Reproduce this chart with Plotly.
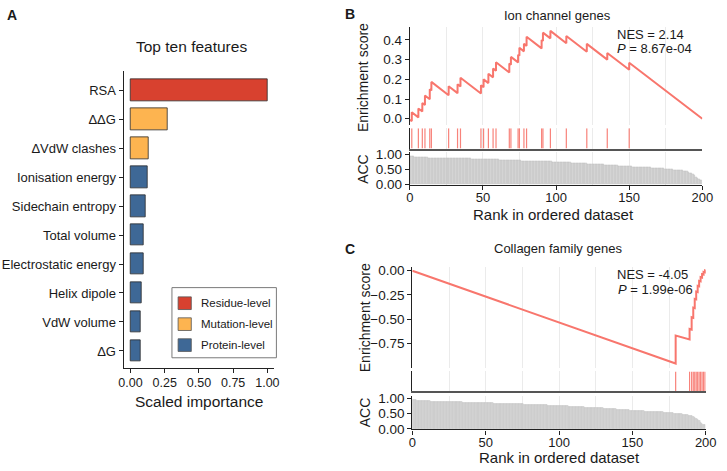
import numpy as np
import plotly.graph_objects as go

W, H = 727, 471
FONT = "Liberation Sans, Arial, Helvetica, sans-serif"
TXT = "#1a1a1a"
AX = "#222222"
GRID = "#EBEBEB"
CURVE = "#F8766D"

# ---------------- Panel A data ----------------
features = ["RSA", "ΔΔG", "ΔVdW clashes", "Ionisation energy", "Sidechain entropy",
            "Total volume", "Electrostatic energy", "Helix dipole", "VdW volume", "ΔG"]
importance = [1.0, 0.274, 0.131, 0.126, 0.114, 0.095, 0.097, 0.083, 0.071, 0.071]
feature_level = ["Residue-level", "Mutation-level", "Mutation-level", "Protein-level",
                 "Protein-level", "Protein-level", "Protein-level", "Protein-level",
                 "Protein-level", "Protein-level"]
level_names = ["Residue-level", "Mutation-level", "Protein-level"]
level_colors = ["#D8412F", "#FDB450", "#3E6896"]
a_ticks = [0.0, 0.25, 0.5, 0.75, 1.0]

# ---------------- Panel B data (Ion channel genes) ----------------
ion_start_es = -0.005
ion_hits = [1.3, 5.8, 8.5, 10.3, 13.6, 14.7, 26.5, 32.6, 34.6, 48.6, 50.4, 53.7, 56.9, 58.9,
            68, 69.1, 74, 74.9, 78, 79.8, 90.1, 91, 96.1, 107, 121, 135, 150]
ion_es_before = [-0.012, 0.007, 0.037, 0.070, 0.099, 0.144, 0.119, 0.130, 0.164, 0.128, 0.160,
                 0.181, 0.210, 0.244, 0.235, 0.274, 0.286, 0.320, 0.342, 0.370, 0.357, 0.395,
                 0.408, 0.383, 0.340, 0.300, 0.249]
ion_es_after = [0.033, 0.052, 0.080, 0.118, 0.150, 0.187, 0.165, 0.175, 0.208, 0.170, 0.200,
                0.228, 0.255, 0.287, 0.280, 0.314, 0.325, 0.360, 0.380, 0.416, 0.400, 0.437,
                0.446, 0.420, 0.380, 0.334, 0.284]
ion_end_es = 0.0
ion_es_ticks = [0, 0.1, 0.2, 0.3, 0.4]
ion_es_ticktext = ["0.0", "0.1", "0.2", "0.3", "0.4"]
ion_nes = "NES = 2.14"
ion_p = "8.67e-04"

# ---------------- Panel C data (Collagen family genes) ----------------
col_start_es = 0.0
col_hits = [179.5, 189, 190.4, 191.5, 192.5, 193.5, 194.5, 195.5, 196.5, 197.5, 198.5, 199.5]
col_es_before = [-0.957, -0.709, -0.607, -0.486, -0.385, -0.295, -0.220, -0.160, -0.110,
                 -0.070, -0.040, -0.017]
col_es_after = [-0.669, -0.600, -0.480, -0.380, -0.290, -0.215, -0.155, -0.105, -0.065,
                -0.035, -0.012, 0.003]
col_end_es = 0.0
col_es_ticks = [0, -0.25, -0.5, -0.75]
col_es_ticktext = ["0.00", "\u22120.25", "\u22120.50", "\u22120.75"]
col_nes = "NES = -4.05"
col_p = "1.99e-06"

n_ranks = 200
rank_ticks = [0, 50, 100, 150, 200]
rank_minor = [25, 75, 125, 175]
acc_ticks = [0, 0.5, 1.0]
acc_ticktext = ["0.00", "0.50", "1.00"]

# ACC of the ordered dataset (ranks 1..200)
acc_values = [
    0.95, 0.94, 0.93, 0.92, 0.92, 0.91, 0.91, 0.91, 0.90, 0.90,
    0.90, 0.90, 0.89, 0.89, 0.89, 0.89, 0.89, 0.89, 0.88, 0.88,
    0.88, 0.88, 0.88, 0.88, 0.88, 0.88, 0.87, 0.87, 0.87, 0.87,
    0.87, 0.87, 0.87, 0.87, 0.86, 0.86, 0.86, 0.86, 0.86, 0.86,
    0.86, 0.86, 0.85, 0.85, 0.85, 0.85, 0.85, 0.85, 0.85, 0.84,
    0.84, 0.84, 0.84, 0.84, 0.84, 0.83, 0.83, 0.83, 0.83, 0.83,
    0.83, 0.82, 0.82, 0.82, 0.82, 0.82, 0.81, 0.81, 0.81, 0.81,
    0.81, 0.80, 0.80, 0.80, 0.80, 0.80, 0.79, 0.79, 0.79, 0.79,
    0.79, 0.78, 0.78, 0.78, 0.78, 0.78, 0.77, 0.77, 0.77, 0.77,
    0.77, 0.77, 0.76, 0.76, 0.76, 0.76, 0.76, 0.75, 0.75, 0.75,
    0.75, 0.75, 0.74, 0.74, 0.74, 0.74, 0.73, 0.73, 0.73, 0.73,
    0.72, 0.72, 0.72, 0.72, 0.71, 0.71, 0.71, 0.70, 0.70, 0.70,
    0.70, 0.69, 0.69, 0.69, 0.68, 0.68, 0.68, 0.67, 0.67, 0.67,
    0.66, 0.66, 0.66, 0.65, 0.65, 0.65, 0.64, 0.64, 0.64, 0.63,
    0.63, 0.63, 0.62, 0.62, 0.62, 0.61, 0.61, 0.61, 0.60, 0.60,
    0.60, 0.60, 0.59, 0.59, 0.59, 0.58, 0.58, 0.58, 0.57, 0.57,
    0.57, 0.57, 0.56, 0.56, 0.56, 0.55, 0.55, 0.55, 0.54, 0.54,
    0.54, 0.53, 0.53, 0.53, 0.52, 0.52, 0.51, 0.51, 0.50, 0.50,
    0.49, 0.49, 0.48, 0.48, 0.47, 0.46, 0.46, 0.45, 0.44, 0.43,
    0.41, 0.39, 0.36, 0.33, 0.29, 0.25, 0.21, 0.17, 0.15, 0.13,
]


def fx(p):
    return p / W


def fy(p):
    return 1 - p / H


def dom_y(top, bottom):
    return [fy(bottom), fy(top)]


def curve_xy(start, hits, before, after, end, n):
    xs, ys = [0], [start]
    for r, b, a in zip(hits, before, after):
        xs += [r, r]
        ys += [b, a]
    xs.append(n)
    ys.append(end)
    return xs, ys


def rug_xy(hits):
    xs, ys = [], []
    for r in hits:
        xs += [r, r, None]
        ys += [0, 1, None]
    return xs, ys


fig = go.Figure()

# ---- Panel A bars ----
for lvl, col in zip(level_names, level_colors):
    ys = [f for f, l in zip(features, feature_level) if l == lvl]
    xs = [v for v, l in zip(importance, feature_level) if l == lvl]
    fig.add_trace(go.Bar(x=xs, y=ys, orientation="h", width=0.74, name=lvl,
                         marker=dict(color=col, line=dict(color="#2b2b2b", width=0.8)),
                         xaxis="x", yaxis="y", showlegend=False))

acc_x = [i + 0.5 for i in range(len(acc_values))]

panels = [
    (ion_start_es, ion_hits, ion_es_before, ion_es_after, ion_end_es, ("2", "3", "4")),
    (col_start_es, col_hits, col_es_before, col_es_after, col_end_es, ("5", "6", "7")),
]
for start, hits, bef, aft, end, (a_es, a_rug, a_acc) in panels:
    cx, cy = curve_xy(start, hits, bef, aft, end, n_ranks)
    fig.add_trace(go.Scatter(x=cx, y=cy, mode="lines", line=dict(color=CURVE, width=2),
                             xaxis="x" + a_es, yaxis="y" + a_es, showlegend=False))
    rx, ry = rug_xy(hits)
    fig.add_trace(go.Scatter(x=rx, y=ry, mode="lines", line=dict(color=CURVE, width=1.2),
                             opacity=0.9, xaxis="x" + a_rug, yaxis="y" + a_rug,
                             showlegend=False))
    fig.add_trace(go.Bar(x=acc_x, y=acc_values, width=1.0,
                         marker=dict(color="#D6D6D6", line=dict(color="#BDBDBD", width=0.4)),
                         xaxis="x" + a_acc, yaxis="y" + a_acc, showlegend=False))

tickfont = dict(family=FONT, size=13.5, color=TXT)
xtickfont = dict(family=FONT, size=13, color=TXT)
common_line = dict(showline=True, linecolor=AX, linewidth=1.2, zeroline=False)

layout = dict(
    width=W, height=H, autosize=False,
    margin=dict(l=0, r=0, t=0, b=0),
    paper_bgcolor="white", plot_bgcolor="rgba(0,0,0,0)",
    font=dict(family=FONT, color=TXT),
    barmode="overlay", bargap=0,
    showlegend=False,
)

# Panel A axes
layout["xaxis"] = dict(domain=[fx(121.3), fx(275)], range=[-0.05, 1.048], anchor="y",
                       tickvals=a_ticks, tickformat=".2f", ticks="outside", ticklen=4,
                       tickcolor=AX, showgrid=False, ticklabelstandoff=-1,
                       tickfont=dict(family=FONT, size=12.5, color=TXT), **common_line)
layout["yaxis"] = dict(domain=dom_y(68, 372.7), type="category", categoryorder="array",
                       categoryarray=features, range=[9.595, -0.65], anchor="x",
                       ticks="outside", ticklen=4, tickcolor=AX, showgrid=False,
                       tickfont=dict(family=FONT, size=13, color=TXT), **common_line)


def rank_axes(xdom, es_dom, es_range, es_ticks, es_text, rug_dom, acc_dom, acc_range, ids):
    a_es, a_rug, a_acc = ids
    grid = dict(showgrid=True, gridcolor=GRID, gridwidth=1,
                minor=dict(tickvals=rank_minor, showgrid=True, gridcolor=GRID, gridwidth=1))
    layout["xaxis" + a_es] = dict(domain=xdom, range=[0, n_ranks], anchor="y" + a_es,
                                  tickvals=rank_ticks, showticklabels=False, ticks="",
                                  showline=False, zeroline=False, **grid)
    layout["yaxis" + a_es] = dict(domain=es_dom, range=es_range, anchor="x" + a_es,
                                  tickvals=es_ticks, ticktext=es_text, ticks="outside",
                                  ticklen=4, tickcolor=AX, showgrid=False, tickfont=tickfont,
                                  **common_line)
    layout["xaxis" + a_rug] = dict(domain=xdom, range=[0, n_ranks], anchor="y" + a_rug,
                                   tickvals=rank_ticks, showticklabels=False, ticks="",
                                   showline=True, linecolor="#555555", linewidth=2,
                                   zeroline=False, **grid)
    layout["yaxis" + a_rug] = dict(domain=rug_dom, range=[0, 1], anchor="x" + a_rug,
                                   showticklabels=False, ticks="", showgrid=False,
                                   **common_line)
    layout["xaxis" + a_acc] = dict(domain=xdom, range=[0, n_ranks], anchor="y" + a_acc,
                                   tickvals=rank_ticks, ticks="outside", ticklen=4,
                                   tickcolor=AX, tickfont=xtickfont, ticklabelstandoff=-3,
                                   **grid, **common_line)
    layout["yaxis" + a_acc] = dict(domain=acc_dom, range=acc_range, anchor="x" + a_acc,
                                   tickvals=acc_ticks, ticktext=acc_ticktext, ticks="outside",
                                   ticklen=4, tickcolor=AX, showgrid=False, tickfont=tickfont,
                                   **common_line)


rank_axes([fx(414), fx(713)], dom_y(22.7, 123), [-0.031, 0.465],
          ion_es_ticks, ion_es_ticktext, dom_y(126.5, 147.3), dom_y(151, 184.5),
          [-0.016, 1.075], ("2", "3", "4"))
rank_axes([fx(416.5), fx(716.5)], dom_y(269, 372), [-0.998, 0.037],
          col_es_ticks, col_es_ticktext, dom_y(376, 396.3), dom_y(401, 435.5),
          [-0.016, 1.073], ("5", "6", "7"))

fig.update_layout(**layout)


def ann(text, x, y, size, bold=False, angle=0, xanchor="center", yanchor="middle"):
    t = "<b>%s</b>" % text if bold else text
    fig.add_annotation(text=t, x=fx(x), y=fy(y), xref="paper", yref="paper",
                       showarrow=False, textangle=angle, xanchor=xanchor, yanchor=yanchor,
                       borderpad=0, font=dict(family=FONT, size=size, color=TXT))


# Panel A texts
ann("A", 7, 10, 14, bold=True)
ann("Top ten features", 190.5, 43, 15.5)
ann("Scaled importance", 198, 407, 15.5)

# Manual legend
fig.add_shape(type="rect", xref="paper", yref="paper", x0=fx(170.7), x1=fx(277.5),
              y0=fy(362), y1=fy(290), line=dict(color="#7a7a7a", width=1), fillcolor="white")
legend_y = [306, 327.5, 349]
for lvl, col, yy in zip(level_names, level_colors, legend_y):
    fig.add_shape(type="rect", xref="paper", yref="paper", x0=fx(177), x1=fx(190.5),
                  y0=fy(yy + 6.5), y1=fy(yy - 6.5), line=dict(color="#555555", width=0.8),
                  fillcolor=col)
    ann(lvl, 199.3, yy, 11.5, xanchor="left")

# Panel B texts
ann("B", 352.5, 9, 14, bold=True)
ann("Ion channel genes", 564.7, 11, 13)
ann("Enrichment score", 366, 74, 14, angle=-90)
ann("ACC", 366.7, 168.5, 14, angle=-90)
ann("Rank in ordered dataset", 560.7, 214.5, 15)
ann(ion_nes, 624.3, 30, 13, xanchor="left")
ann("<i>P</i> = " + ion_p, 624.3, 44.3, 13, xanchor="left")

# Panel C texts
ann("C", 353, 250, 14, bold=True)
ann("Collagen family genes", 565.5, 250, 13)
ann("Enrichment score", 368, 320.5, 14, angle=-90)
ann("ACC", 367.7, 418.3, 14, angle=-90)
ann("Rank in ordered dataset", 566.7, 464.5, 15)
ann(col_nes, 625, 276.7, 13, xanchor="left")
ann("<i>P</i> = " + col_p, 626, 291.7, 13, xanchor="left")

fig.write_html("out.html", config={"displayModeBar": False},
               post_script="document.body.style.margin='0';document.body.style.overflow='hidden';")
